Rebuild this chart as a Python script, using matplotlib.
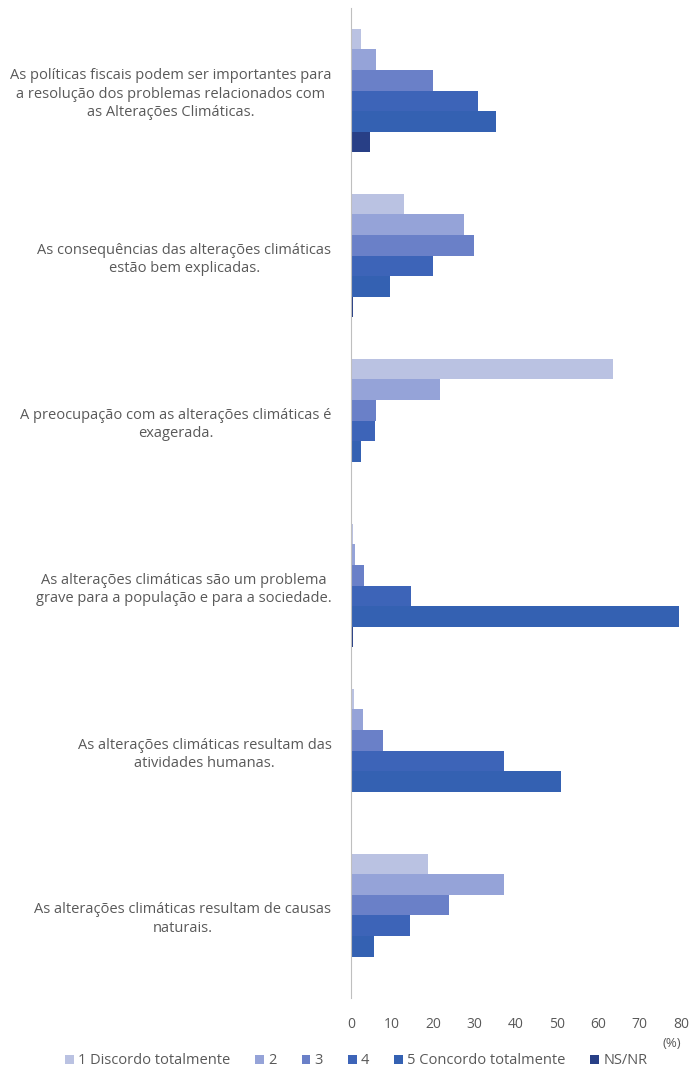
import matplotlib.pyplot as plt
import numpy as np

plt.rcParams['font.family'] = ['Open Sans', 'DejaVu Sans']

statements = [
    "As políticas fiscais podem ser importantes para\na resolução dos problemas relacionados com\nas Alterações Climáticas.",
    "As consequências das alterações climáticas\nestão bem explicadas.",
    "A preocupação com as alterações climáticas é\nexagerada.",
    "As alterações climáticas são um problema\ngrave para a população e para a sociedade.",
    "As alterações climáticas resultam das\natividades humanas.",
    "As alterações climáticas resultam de causas\nnaturais.",
]
series = ["1 Discordo totalmente", "2", "3", "4", "5 Concordo totalmente", "NS/NR"]
colors = ["#bac2e2", "#95a3d8", "#6a80c8", "#3d64b8", "#3461b2", "#283f86"]

# percentage per answer (rows follow series, columns follow statements)
discordo = [2.4, 12.8, 63.5, 0.5, 0.8, 18.7]
nivel2 = [6.1, 27.4, 21.6, 1.0, 3.0, 37.0]
nivel3 = [19.9, 29.8, 6.2, 3.2, 7.8, 23.7]
nivel4 = [30.8, 19.8, 5.8, 14.5, 37.0, 14.3]
concordo = [35.2, 9.6, 2.4, 79.5, 50.9, 5.6]
nsnr = [4.6, 0.5, 0.0, 0.6, 0.3, 0.4]
values = [discordo, nivel2, nivel3, nivel4, concordo, nsnr]

fig = plt.figure(figsize=(6.92, 10.76), dpi=100)
ax = fig.add_axes([0.507, 0.0725, 0.477, 0.920])

n = len(statements)
y = np.arange(n)
h = 0.75 / len(series)
for i, (name, vals, c) in enumerate(zip(series, values, colors)):
    ax.barh(y - 0.375 + h * (i + 0.5), vals, height=h, color=c, label=name,
            edgecolor='none')

ax.set_ylim(n - 0.5, -0.5)
ax.set_xlim(0, 80)
ax.set_xticks(range(0, 81, 10))
ax.set_yticks(y)
ax.set_yticklabels(statements, multialignment='center', fontsize=10.5,
                   color='#595959', linespacing=1.3)
ax.tick_params(axis='y', length=0, pad=14)
ax.tick_params(axis='x', length=0, labelsize=10, colors='#595959', pad=14)
for s in ['top', 'right', 'bottom']:
    ax.spines[s].set_visible(False)
ax.spines['left'].set_color('#bfbfbf')

fig.text(0.985, 0.030, "(%)", ha='right', va='center', fontsize=9.5,
         color='#595959')
fig.legend(loc='center', bbox_to_anchor=(0.515, 0.014), ncol=6, frameon=False,
           fontsize=10.5, handlelength=0.6, handleheight=0.6, handletextpad=0.3,
           columnspacing=1.7, labelcolor='#595959')

fig.savefig("out.png", dpi=100)
